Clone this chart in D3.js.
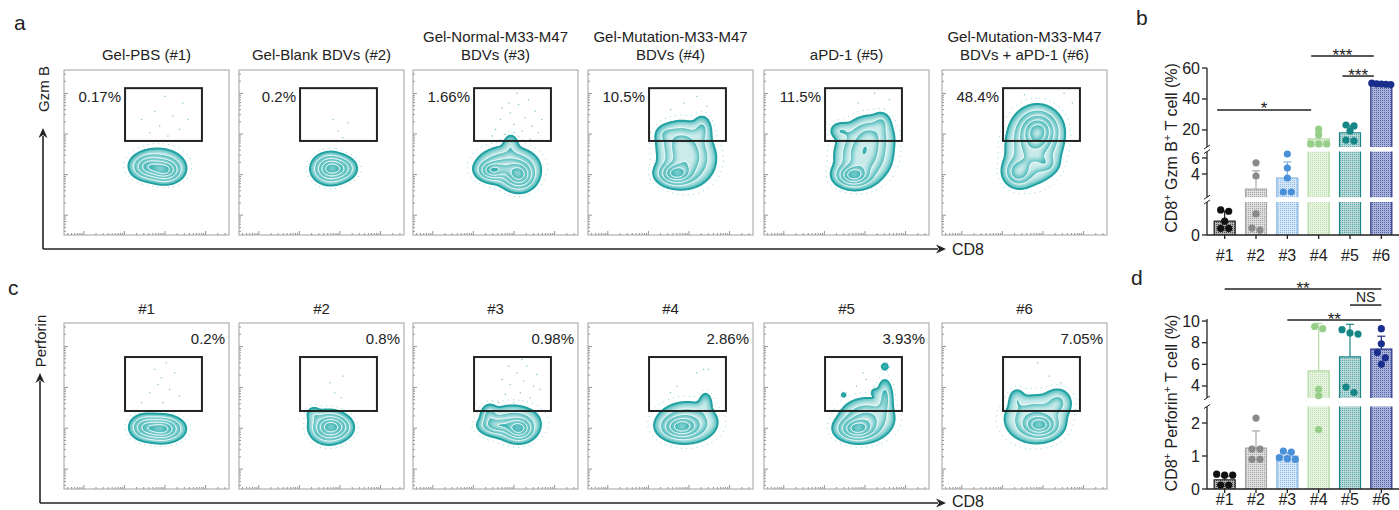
<!DOCTYPE html>
<html><head><meta charset="utf-8">
<script src="https://cdn.jsdelivr.net/npm/d3@7"></script>
<style>
body{margin:0;background:#fff}
svg{display:block;font-family:Arial,"Liberation Sans",sans-serif}
</style>
</head><body>
<svg id="fig" width="1399" height="510"></svg>
<script>
// ---------- groups ----------
const groups = ["#1", "#2", "#3", "#4", "#5", "#6"];

// ---------- flow cytometry panels ----------
const gzmTitles = [
  ["Gel-PBS (#1)"], ["Gel-Blank BDVs (#2)"], ["Gel-Normal-M33-M47", "BDVs (#3)"],
  ["Gel-Mutation-M33-M47", "BDVs (#4)"], ["aPD-1 (#5)"], ["Gel-Mutation-M33-M47", "BDVs + aPD-1 (#6)"]
];
const gzmGatePct = ["0.17%", "0.2%", "1.66%", "10.5%", "11.5%", "48.4%"];
const perfGatePct = ["0.2%", "0.8%", "0.98%", "2.86%", "3.93%", "7.05%"];

// gate rectangles in display units (0-100 on both axes)
const gzmGate = { x0: 37, x1: 83.6, y0: 57, y1: 89 };
const perfGate = { x0: 37, x1: 83.6, y0: 47, y1: 79.5 };

// population components per sample: [cx, cy, sx, sy, amplitude]
const gzmPops = [
  [[61, 39, 5, 3.6, 1], [51, 41, 5, 3.6, 0.75], [57, 43, 8, 5, 0.3]],
  [[55, 40, 5, 4.2, 1], [62, 40, 4.5, 3.5, 0.4]],
  [[48, 39, 4.5, 3, 0.8], [64, 36, 5, 4.5, 1], [57, 42, 9, 5.5, 0.5], [59, 55, 2.6, 3.5, 0.14]],
  [[53, 37, 5.5, 3.6, 1], [60, 46, 8, 8, 0.6], [56, 57, 7, 6, 0.35], [69, 64, 3, 4.5, 0.2], [47, 61, 3.5, 3, 0.12]],
  [[54, 36, 5.5, 3.6, 1], [60, 48, 8, 8, 0.6], [64, 60, 7, 6, 0.35], [46, 63, 3.5, 2.8, 0.15], [71, 68, 3, 3.5, 0.14]],
  [[58, 63, 6.5, 6.5, 1], [46, 38, 4.5, 4.5, 0.6], [55, 52, 8, 10, 0.5], [63, 43, 3.5, 3, 0.2]]
];
const perfPops = [
  [[59, 36, 6, 3.6, 1], [49, 37, 4.5, 3.6, 0.5]],
  [[54, 37, 5.2, 4.4, 1], [60, 37, 4.5, 3.6, 0.4], [45, 45, 2.6, 2.6, 0.12]],
  [[64, 36, 4.5, 3.6, 1], [51, 38, 5.5, 2.8, 0.5], [46, 44, 2.6, 3.5, 0.25], [60, 40, 9, 5.5, 0.3]],
  [[56, 37, 6, 3.6, 1], [60, 40, 9, 6, 0.5], [71, 52, 2.2, 3.6, 0.16]],
  [[56, 36, 6, 3.6, 1], [62, 42, 8, 6, 0.5], [73, 55, 2.6, 6, 0.25], [73, 73.5, 1.4, 1.4, 0.12], [48, 56.5, 1.1, 1.1, 0.08], [67, 58, 1.4, 1.4, 0.1]],
  [[59, 38, 5.5, 3.6, 1], [56, 42, 9, 7, 0.5], [45, 54, 2.6, 3.6, 0.15], [70, 52, 4.5, 4.5, 0.25]]
];

// isolated events outside the main population: [x, y] in display units
const gzmEvents = [
  [[52, 62], [58, 66], [63, 60], [70, 64], [66, 72], [55, 75], [72, 80], [47, 70], [61, 84], [75, 70]],
  [[60, 63], [66, 68], [57, 70], [63, 59]],
  [[50, 64], [53, 70], [56, 61], [59, 74], [61, 67], [64, 79], [66, 63], [68, 71], [70, 82], [72, 66],
   [74, 75], [76, 62], [58, 80], [54, 77], [63, 86], [71, 58], [78, 70], [48, 60]],
  [[58, 80], [66, 84], [72, 78], [50, 76]],
  [[57, 80], [67, 86], [76, 82]],
  [[50, 85], [74, 86], [79, 80]]
];
const perfEvents = [
  [[52, 58], [57, 63], [60, 52], [64, 60], [67, 70], [55, 72], [62, 76], [70, 56], [47, 52], [59, 67]],
  [[58, 58], [62, 55], [55, 64], [63, 68]],
  [[52, 52], [56, 57], [59, 63], [61, 52], [63, 70], [65, 58], [67, 65], [69, 74], [71, 55], [73, 62],
   [75, 69], [66, 78], [58, 74], [60, 48], [54, 66], [77, 60]],
  [[66, 70], [70, 72], [73, 72], [50, 58], [54, 62]],
  [[62, 66], [56, 62], [60, 70]],
  [[58, 76], [65, 68], [72, 64]]
];

// ---------- bar chart data ----------
const gzmMean = [0.42, 2.1, 3.5, 14.3, 18.2, 49.2];
const gzmSD = [0.3, 2.3, 2.0, 4.2, 4.4, 0.6];
const gzmPoints = [
  [0.76, 0.72, 0.42, 0.2, 0.2],
  [5.4, 3.75, 0.64, 0.15, 0.21],
  [6.5, 4.75, 3.5, 1.75, 1.75],
  [20.6, 16.8, 11, 11, 11],
  [22.6, 23.2, 19.4, 13.5, 12.9],
  [49.5, 50.2, 49.8, 49.3, 49.6]
];
const gzmTicks = [0, 4, 6, 20, 40, 60];
const gzmSig = [
  { a: 0, b: 3, label: "*", level: 32.9 },
  { a: 3, b: 5, label: "***", level: 67.7 },
  { a: 4, b: 5, label: "***", level: 54.8 }
];

const perfMean = [0.28, 1.24, 1.0, 5.4, 6.7, 7.4];
const perfSD = [0.1, 0.52, 0.1, 4.4, 3.0, 1.2];
const perfPoints = [
  [0.42, 0.45, 0.42, 0.12, 0.12],
  [2.15, 1.21, 1.21, 0.9, 0.9],
  [1.12, 1.15, 0.92, 0.95, 0.9],
  [9.3, 9.5, 3.7, 3.1, 1.8],
  [9.2, 8.8, 8.9, 3.9, 3.4],
  [9.3, 7.9, 7.1, 6.6, 6.0]
];
const perfTicks = [0, 1, 2, 4, 6, 8, 10];
const perfSig = [
  { a: 0, b: 5, label: "**", level: 12.96 },
  { a: 4, b: 5, label: "NS", level: 11.48 },
  { a: 2, b: 5, label: "**", level: 10.09 }
];

// ---------- styles ----------
const barStyle = [
  { light: "#b4b4b4", dark: "#4a4a4a", line: "#1e1e1e", dot: "#111111" },
  { light: "#dedede", dark: "#a2a2a2", line: "#a8a8a8", dot: "#8a8a8a" },
  { light: "#d6e7f7", dark: "#8cbae6", line: "#7fb1e0", dot: "#4a90d8" },
  { light: "#e6f3de", dark: "#bfe1b2", line: "#b4dba6", dot: "#97cf8a" },
  { light: "#b9d9d9", dark: "#5aa6a6", line: "#1c8585", dot: "#168686" },
  { light: "#aab2da", dark: "#5563a8", line: "#1e2d88", dot: "#1a2e8c" }
];
const teal = "#38b2b2", tealRim = "#22a2a2";

const svg = d3.select("#fig");
const defs = svg.append("defs");

// soft inner fade used for the zebra contour bands
const band = defs.append("filter").attr("id", "band")
  .attr("x", "-20%").attr("y", "-20%").attr("width", "140%").attr("height", "140%");
band.append("feMorphology").attr("in", "SourceGraphic").attr("operator", "erode").attr("radius", 1.6).attr("result", "e");
band.append("feGaussianBlur").attr("in", "e").attr("stdDeviation", 2.4);

// stipple patterns for the bars
barStyle.forEach((s, i) => {
  const p = defs.append("pattern").attr("id", "pat" + i).attr("patternUnits", "userSpaceOnUse")
    .attr("width", 2).attr("height", 2);
  p.append("rect").attr("width", 2).attr("height", 2).attr("fill", s.light);
  p.append("rect").attr("width", 1).attr("height", 1).attr("fill", s.dark);
});

// ---------- flow panel layout ----------
const flowLeft = [64, 239, 413, 588, 764, 942];
const flowW = 165;
const flowRows = [
  { top: 70, h: 165, pops: gzmPops, events: gzmEvents, gate: gzmGate, pct: gzmGatePct, pctMode: "gate" },
  { top: 323, h: 166, pops: perfPops, events: perfEvents, gate: perfGate, pct: perfGatePct, pctMode: "corner" }
];

// minor/major ticks of the log-like display axes
const decadeStart = 12, decadeSpan = 24.6;
const majorTicks = d3.range(4).map(d => decadeStart + d * decadeSpan);
const minorTicks = [];
for (let d = -1; d < 4; d++) {
  for (let m = 2; m <= 9; m++) {
    const u = decadeStart + (d + Math.log10(m)) * decadeSpan;
    if (u > 1 && u < 99) minorTicks.push(u);
  }
}

function drawFlow(g, pops, events, gate, pct, pctMode, w, h) {
  const xs = d3.scaleLinear([0, 100], [0, w]);
  const ys = d3.scaleLinear([0, 100], [h, 0]);

  // frame ticks
  const tk = g.append("g").attr("stroke", "#7a7a7a").attr("stroke-width", 0.8);
  majorTicks.forEach(u => {
    tk.append("line").attr("x1", 0).attr("x2", 4).attr("y1", ys(u)).attr("y2", ys(u));
    tk.append("line").attr("y1", h).attr("y2", h - 4).attr("x1", xs(u)).attr("x2", xs(u));
  });
  minorTicks.forEach(u => {
    tk.append("line").attr("x1", 0).attr("x2", 2).attr("y1", ys(u)).attr("y2", ys(u));
    tk.append("line").attr("y1", h).attr("y2", h - 2).attr("x1", xs(u)).attr("x2", xs(u));
  });

  // isolated events
  g.append("g").attr("fill", "#4aa8b4").attr("opacity", 0.75)
    .selectAll("rect").data(events).join("rect")
    .attr("x", d => xs(d[0]) - 0.6).attr("y", d => ys(d[1]) - 0.6).attr("width", 1.2).attr("height", 1.2);

  // density grid from the population components
  const n = 201, step = 100 / (n - 1);
  const vals = new Float64Array(n * n);
  let max = 0;
  for (let j = 0; j < n; j++) {
    const y = j * step;
    for (let i = 0; i < n; i++) {
      const x = i * step;
      let s = 0;
      for (const [cx, cy, sx, sy, a] of pops) {
        const dx = (x - cx) / sx, dy = (y - cy) / sy;
        s += a * Math.exp(-0.5 * (dx * dx + dy * dy));
      }
      vals[j * n + i] = s;
      if (s > max) max = s;
    }
  }
  const levels = [0.012, 0.045, 0.15, 0.33, 0.56, 0.8].map(l => l * max);
  const cont = d3.contours().size([n, n]).thresholds(levels)(vals);
  const proj = d3.geoTransform({
    point(x, y) { this.stream.point(xs(x * step), ys(y * step)); }
  });
  const path = d3.geoPath(proj);

  const cg = g.append("g");
  // sparse events around the population edge
  cg.append("path").attr("d", path(cont[0])).attr("fill", "none")
    .attr("stroke", teal).attr("stroke-width", 1).attr("stroke-dasharray", "0.8 4.5").attr("opacity", 0.7);
  cont.slice(1).forEach((c, k) => {
    const d = path(c);
    if (!d) return;
    cg.append("path").attr("d", d).attr("fill", teal);
    cg.append("path").attr("d", d).attr("fill", "#ffffff").attr("opacity", 0.74).attr("filter", "url(#band)");
    cg.append("path").attr("d", d).attr("fill", "none")
      .attr("stroke", k === 0 ? tealRim : "#ffffff").attr("stroke-width", k === 0 ? 2 : 1);
  });

  // frame
  g.append("rect").attr("width", w).attr("height", h).attr("fill", "none")
    .attr("stroke", "#a0a0a0").attr("stroke-width", 1);

  // gate
  g.append("rect").attr("x", xs(gate.x0)).attr("y", ys(gate.y1))
    .attr("width", xs(gate.x1) - xs(gate.x0)).attr("height", ys(gate.y0) - ys(gate.y1))
    .attr("fill", "none").attr("stroke", "#222").attr("stroke-width", 2);

  // gate frequency
  if (pctMode === "gate") {
    g.append("text").attr("x", xs(gate.x0) - 4).attr("y", ys(gate.y1) + 14)
      .attr("text-anchor", "end").style("font-size", "15px").attr("fill", "#222").text(pct);
  } else {
    g.append("text").attr("x", w - 4).attr("y", 21)
      .attr("text-anchor", "end").style("font-size", "15px").attr("fill", "#222").text(pct);
  }
}

flowRows.forEach(row => {
  groups.forEach((grp, i) => {
    const g = svg.append("g").attr("transform", `translate(${flowLeft[i]},${row.top})`);
    drawFlow(g, row.pops[i], row.events[i], row.gate, row.pct[i], row.pctMode, flowW, row.h);
  });
});

// titles
gzmTitles.forEach((lines, i) => {
  const cx = flowLeft[i] + flowW / 2;
  lines.forEach((t, k) => {
    const y = lines.length === 2 ? (k === 0 ? 42 : 60) : 60;
    svg.append("text").attr("x", cx).attr("y", y).attr("text-anchor", "middle")
      .style("font-size", "15px").attr("fill", "#222").text(t);
  });
});
groups.forEach((grp, i) => {
  svg.append("text").attr("x", flowLeft[i] + flowW / 2).attr("y", 314).attr("text-anchor", "middle")
    .style("font-size", "15px").attr("fill", "#222").text(grp);
});

// axis arrows for the flow rows
function arrowAxes(x0, y0, yTip, xTip, yLab, yLabCenter, labBase) {
  const a = svg.append("g").attr("stroke", "#222").attr("fill", "#222");
  a.append("line").attr("x1", x0).attr("x2", x0).attr("y1", y0).attr("y2", yTip + 8).attr("stroke-width", 1.6);
  a.append("path").attr("d", `M${x0},${yTip} L${x0 - 4.5},${yTip + 10} L${x0},${yTip + 7} L${x0 + 4.5},${yTip + 10} Z`).attr("stroke", "none");
  a.append("line").attr("x1", x0).attr("x2", xTip - 8).attr("y1", y0).attr("y2", y0).attr("stroke-width", 1.6);
  a.append("path").attr("d", `M${xTip},${y0} L${xTip - 10},${y0 - 4.5} L${xTip - 7},${y0} L${xTip - 10},${y0 + 4.5} Z`).attr("stroke", "none");
  svg.append("text").attr("x", xTip + 6).attr("y", labBase).style("font-size", "16px").attr("fill", "#222").text("CD8");
  svg.append("text").attr("transform", `translate(${x0 + 5.5},${yLabCenter}) rotate(-90)`)
    .attr("text-anchor", "middle").style("font-size", "15px").attr("fill", "#222").text(yLab);
}
arrowAxes(43, 249, 128, 946, "Gzm B", 89, 255);
arrowAxes(40, 503, 373, 946, "Perforin", 341, 507);

// panel letters
[["a", 14, 30], ["c", 8, 295], ["b", 1136, 25], ["d", 1131, 285]].forEach(([t, x, y]) => {
  svg.append("text").attr("x", x).attr("y", y).style("font-size", "21px").attr("fill", "#222").text(t);
});

// ---------- bar charts with broken y axes ----------
const xBand = d3.scaleBand().domain(groups).range([1209, 1397]).paddingInner(0.33).paddingOuter(0.165);

function brokenScale(segs) {
  const s = segs.map(([lo, hi, y0, y1]) => ({ lo, hi, sc: d3.scaleLinear([lo, hi], [y0, y1]) }));
  const f = v => {
    for (let k = s.length - 1; k >= 0; k--) if (v >= s[k].lo) return s[k].sc(v);
    return s[0].sc(v);
  };
  f.segs = s;
  return f;
}

function drawBars(cfg) {
  const { y, mean, sd, points, ticks, sig, axisX, baseY, labelY, sigAlign, labelCenter, marker } = cfg;
  const g = svg.append("g");
  const bw = xBand.bandwidth();

  // bars, split across the axis segments
  groups.forEach((grp, i) => {
    const x = xBand(grp), st = barStyle[i], v = mean[i];
    y.segs.forEach(seg => {
      if (v <= seg.lo) return;
      const top = Math.min(v, seg.hi);
      const yb = seg.sc(seg.lo), yt = seg.sc(top);
      g.append("rect").attr("x", x).attr("y", yt).attr("width", bw).attr("height", yb - yt)
        .attr("fill", `url(#pat${i})`);
      const edge = v <= seg.hi
        ? `M${x},${yb} V${yt} H${x + bw} V${yb}`
        : `M${x},${yb} V${yt} M${x + bw},${yt} V${yb}`;
      g.append("path").attr("d", edge).attr("fill", "none").attr("stroke", st.line).attr("stroke-width", 1.2);
    });
    // upper error bar
    const cx = x + bw / 2, yTop = y(v + sd[i]);
    g.append("line").attr("x1", cx).attr("x2", cx).attr("y1", y(v)).attr("y2", yTop)
      .attr("stroke", st.line).attr("stroke-width", 1.2);
    g.append("line").attr("x1", cx - 4).attr("x2", cx + 4).attr("y1", yTop).attr("y2", yTop)
      .attr("stroke", st.line).attr("stroke-width", 1.2);
  });

  // scatter points, spread sideways where they overlap
  const r = 3.6;
  groups.forEach((grp, i) => {
    const cx = xBand(grp) + bw / 2;
    const py = points[i].map(v => y(v)).sort((a, b) => a - b);
    const clusters = [];
    py.forEach(p => {
      const c = clusters[clusters.length - 1];
      if (c && p - c[0] < r * 1.6) c.push(p); else clusters.push([p]);
    });
    clusters.forEach(c => {
      const gap = c.length > 1 ? Math.min(2 * r + 0.8, (bw - 2) / (c.length - 1)) : 0;
      c.forEach((p, k) => {
        const off = (k - (c.length - 1) / 2) * gap;
        g.append("circle").attr("cx", cx + off).attr("cy", p).attr("r", r).attr("fill", barStyle[i].dot);
      });
    });
  });

  // y axis segments, ticks and break marks
  const ax = svg.append("g").attr("stroke", "#222").attr("stroke-width", 1.3);
  y.segs.forEach((seg, k) => {
    const [ya, yb] = seg.sc.range();
    ax.append("line").attr("x1", axisX).attr("x2", axisX).attr("y1", ya).attr("y2", yb);
    if (k > 0) {
      ax.append("line").attr("x1", axisX - 3).attr("x2", axisX + 3).attr("y1", ya + 2).attr("y2", ya - 2).attr("stroke-width", 1);
    }
    if (k < y.segs.length - 1) {
      ax.append("line").attr("x1", axisX - 3).attr("x2", axisX + 3).attr("y1", yb + 2).attr("y2", yb - 2).attr("stroke-width", 1);
    }
  });
  ticks.forEach(t => {
    const yy = y(t);
    ax.append("line").attr("x1", axisX - 5).attr("x2", axisX).attr("y1", yy).attr("y2", yy);
    svg.append("text").attr("x", axisX - 7).attr("y", yy + 5.5).attr("text-anchor", "end")
      .style("font-size", "16px").attr("fill", "#222").text(t);
  });
  // x axis
  ax.append("line").attr("x1", axisX).attr("x2", 1399).attr("y1", baseY).attr("y2", baseY);
  groups.forEach(grp => {
    ax.append("line").attr("x1", xBand(grp) + bw / 2).attr("x2", xBand(grp) + bw / 2)
      .attr("y1", baseY).attr("y2", baseY + 4);
    svg.append("text").attr("x", xBand(grp) + bw / 2).attr("y", labelY).attr("text-anchor", "middle")
      .style("font-size", "16px").attr("fill", "#222").text(grp);
  });

  // significance brackets
  sig.forEach(s => {
    const xa = sigAlign === "center" ? xBand(groups[s.a]) + bw / 2 : xBand(groups[s.a]) + 3;
    const xb = sigAlign === "center" ? xBand(groups[s.b]) + bw / 2 : xBand(groups[s.b]) + 3;
    const yy = y(s.level);
    svg.append("line").attr("x1", xa).attr("x2", xb).attr("y1", yy).attr("y2", yy)
      .attr("stroke", "#222").attr("stroke-width", 1.5);
    const isStar = s.label.includes("*");
    svg.append("text").attr("x", (xa + xb) / 2).attr("y", isStar ? yy + 4.5 : yy - 3)
      .attr("text-anchor", "middle").style("font-size", isStar ? "17px" : "14px")
      .attr("fill", "#222").text(s.label);
  });

  // y axis title
  const t = svg.append("text").attr("transform", `translate(${labelCenter[0]},${labelCenter[1]}) rotate(-90)`)
    .attr("text-anchor", "middle").style("font-size", "16px").attr("fill", "#222");
  t.append("tspan").text("CD8");
  t.append("tspan").attr("dy", -6).style("font-size", "11px").text("+");
  t.append("tspan").attr("dy", 6).text(" " + marker);
  t.append("tspan").attr("dy", -6).style("font-size", "11px").text("+");
  t.append("tspan").attr("dy", 6).text(" T cell  (%)");
}

drawBars({
  y: brokenScale([[0, 1, 235, 202], [1.1, 6.8, 197.2, 151.6], [9, 60, 147, 68]]),
  mean: gzmMean, sd: gzmSD, points: gzmPoints, ticks: gzmTicks, sig: gzmSig,
  axisX: 1207, baseY: 235, labelY: 261, sigAlign: "edge", labelCenter: [1177, 148], marker: "Gzm B"
});
drawBars({
  y: brokenScale([[0, 2.5, 489, 406.5], [2.9, 10.2, 397.9, 318.9]]),
  mean: perfMean, sd: perfSD, points: perfPoints, ticks: perfTicks, sig: perfSig,
  axisX: 1207, baseY: 489, labelY: 505, sigAlign: "center", labelCenter: [1177, 403], marker: "Perforin"
});
</script>
</body></html>
